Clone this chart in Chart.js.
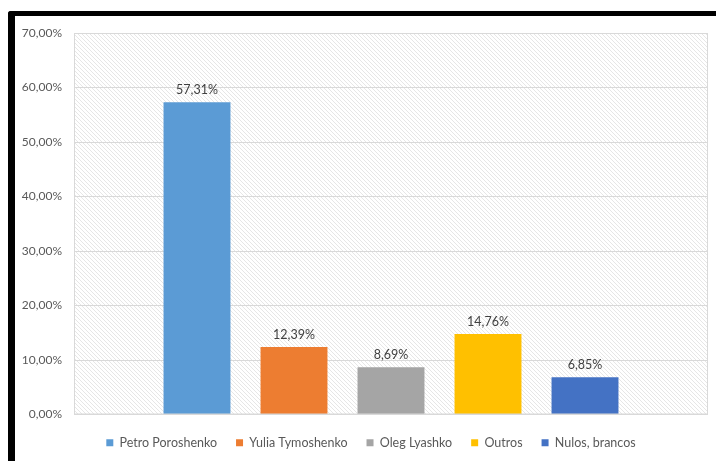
<!DOCTYPE html>
<html>
<head>
<meta charset="utf-8">
<script src="https://cdn.jsdelivr.net/npm/chart.js@4/dist/chart.umd.min.js"></script>
<style>
  html, body { margin: 0; padding: 0; background: #fff; overflow: hidden; }
  #wrap { position: relative; width: 716px; height: 461px; overflow: hidden; }
  #chart { position: absolute; left: 0; top: 0; }
  #frame {
    position: absolute; left: 8px; top: 11px; width: 760px; height: 500px;
    border-left: 7px solid #000; border-top: 5px solid #000;
    border-top-left-radius: 3px; pointer-events: none;
  }
</style>
</head>
<body>
<div id="wrap">
  <canvas id="chart" width="716" height="461"></canvas>
  <div id="frame"></div>
</div>
<script>
const candidates = ['Petro Poroshenko', 'Yulia Tymoshenko', 'Oleg Lyashko', 'Outros', 'Nulos, brancos']
const shares = [57.31, 12.39, 8.69, 14.76, 6.85]
const colors = ['#5B9BD5', '#ED7D31', '#A5A5A5', '#FFC000', '#4472C4']
const yTicks = [0, 10, 20, 30, 40, 50, 60, 70]

const pct = v => v.toFixed(2).replace('.', ',') + '%'
const FONT = 'Lato, "Open Sans", sans-serif'

// diagonal hatch for the plot background
function hatchPattern(ctx) {
  const c = document.createElement('canvas')
  c.width = 4
  c.height = 4
  const p = c.getContext('2d')
  p.fillStyle = '#ffffff'
  p.fillRect(0, 0, 4, 4)
  p.strokeStyle = '#e6e6e6'
  p.lineWidth = 1
  p.beginPath()
  p.moveTo(-1, -1); p.lineTo(5, 5)
  p.moveTo(-1, 3); p.lineTo(1, 5)
  p.moveTo(3, -1); p.lineTo(5, 1)
  p.stroke()
  return ctx.createPattern(c, 'repeat')
}

const plotBackground = {
  id: 'plotBackground',
  beforeDraw(chart) {
    const { ctx, chartArea: a } = chart
    ctx.save()
    ctx.fillStyle = hatchPattern(ctx)
    ctx.fillRect(a.left, a.top, a.width, a.height)
    ctx.restore()
  },
  afterDraw(chart) {
    const { ctx, chartArea: a } = chart
    ctx.save()
    ctx.strokeStyle = '#d9d9d9'
    ctx.lineWidth = 1
    ctx.strokeRect(a.left + 0.5, a.top + 0.5, a.width - 1, a.height - 1)
    ctx.restore()
  }
}

// nudge the legend box so its row sits under the plot a bit lower and to the right
const legendOffset = {
  id: 'legendOffset',
  afterLayout(chart) {
    const lg = chart.legend
    lg.left = 34
    lg.top += 3
    lg.bottom += 3
  }
}

const valueLabels = {
  id: 'valueLabels',
  afterDatasetsDraw(chart) {
    const { ctx } = chart
    ctx.save()
    ctx.font = '12.5px ' + FONT
    ctx.fillStyle = '#404040'
    ctx.textAlign = 'center'
    ctx.textBaseline = 'bottom'
    chart.data.datasets.forEach((ds, i) => {
      chart.getDatasetMeta(i).data.forEach((bar, j) => {
        ctx.fillText(pct(ds.data[j]), bar.x, bar.y - 6)
      })
    })
    ctx.restore()
  }
}

new Chart(document.getElementById('chart'), {
  type: 'bar',
  data: {
    labels: [''],
    datasets: candidates.map((name, i) => ({
      label: name,
      data: [shares[i]],
      backgroundColor: colors[i],
      borderWidth: 0
    }))
  },
  options: {
    responsive: false,
    animation: false,
    events: [],
    categoryPercentage: 0.765,
    barPercentage: 0.69,
    layout: { padding: { left: 0, right: 8, top: 33, bottom: 5 } },
    plugins: {
      legend: {
        position: 'bottom',
        labels: {
          boxWidth: 7,
          boxHeight: 7,
          padding: 19,
          color: '#595959',
          font: { family: FONT, size: 12.5 }
        }
      },
      tooltip: { enabled: false }
    },
    scales: {
      x: { display: false },
      y: {
        min: 0,
        max: 70,
        afterBuildTicks: scale => { scale.ticks = yTicks.map(v => ({ value: v })) },
        afterFit: scale => { scale.width = 74 },
        border: { display: false },
        grid: { color: '#d9d9d9', drawTicks: false },
        ticks: {
          padding: 12,
          color: '#595959',
          font: { family: FONT, size: 12 },
          callback: v => pct(v)
        }
      }
    }
  },
  plugins: [plotBackground, legendOffset, valueLabels]
})
</script>
</body>
</html>
